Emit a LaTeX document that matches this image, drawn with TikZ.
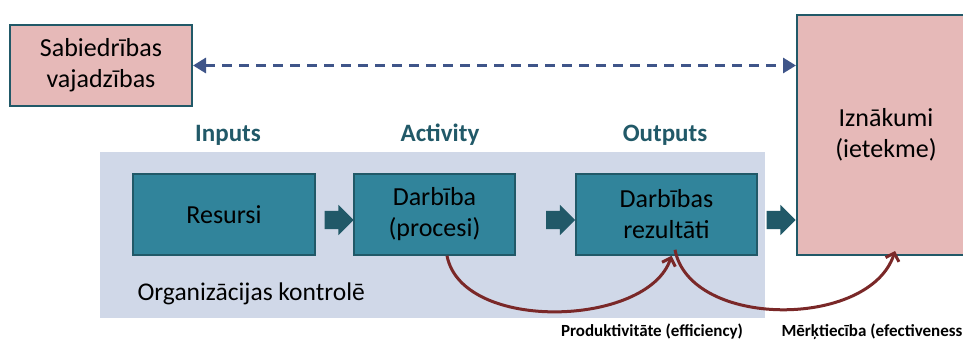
\documentclass[tikz,border=0pt]{standalone}
\usepackage{fontspec}
\setmainfont{Carlito}
\usetikzlibrary{arrows.meta,shapes.arrows}

\definecolor{pinkfill}{HTML}{E6B9B8}
\definecolor{tealfill}{HTML}{31849B}
\definecolor{tealdark}{HTML}{215968}
\definecolor{regionfill}{HTML}{D0D8E8}
\definecolor{dashblue}{HTML}{3F5589}
\definecolor{curvered}{HTML}{7A2828}

\tikzset{
  pinkbox/.style={draw=tealdark, line width=2pt, fill=pinkfill, align=center,
    font=\fontsize{26}{31}\selectfont, inner sep=0pt},
  tealbox/.style={draw=tealdark, line width=1.5pt, fill=tealfill, align=center,
    font=\fontsize{26}{31}\selectfont, minimum height=81pt, inner sep=0pt},
  heading/.style={font=\fontsize{25}{28}\selectfont\bfseries, text=tealdark},
  blockarr/.style={single arrow, fill=tealdark, inner xsep=0pt, inner ysep=9pt,
    minimum height=29pt, single arrow head extend=6pt, single arrow head indent=0pt},
  measure/.style={font=\fontsize{17}{20}\selectfont\bfseries}
}

\begin{document}
\begin{tikzpicture}[x=1pt,y=1pt]
\useasboundingbox (0,0) rectangle (963,341);
\clip (0,0) rectangle (963,341);

% area under the organisation's control
\fill[regionfill] (100,23) rectangle (765,189);
\node[anchor=west, font=\fontsize{25.5}{30}\selectfont] (ctrl) at (134,47) {Organizācijas kontrolē};

\node[pinkbox, minimum width=182pt, minimum height=81pt] (needs) at (101,275.5) {Sabiedrības\\vajadzības};
\node[pinkbox, minimum width=178pt, minimum height=240pt] (impact) at (886,206) {Iznākumi\\(ietekme)};

\node[tealbox, minimum width=182pt] (res) at (224,126.5) {Resursi};
\node[tealbox, minimum width=161pt] (act) at (434.5,126.5) {Darbība\\(procesi)};
\node[tealbox, minimum width=181pt] (outp) at (666.5,126.5) {Darbības\\rezultāti};

\node[heading] (hin) at (228,206) {Inputs};
\node[heading] (hact) at (440,206) {Activity};
\node[heading] (hout) at (665,206) {Outputs};

% block arrows between the steps
\node[blockarr] (a1) at (334.5,121) {};
\node[blockarr] (a2) at (556,121) {};
\node[blockarr] (a3) at (776.5,121) {};

\draw[dashblue, line width=3pt, dash pattern=on 10pt off 7pt,
  {Triangle[length=13pt,width=15pt]}-{Triangle[length=13pt,width=15pt]}]
  (needs.east) -- (needs.east -| impact.west);

% efficiency and effectiveness
\draw[curvered, line width=3pt, -{Straight Barb[length=7pt,width=14pt]}]
  ([xshift=12.5pt]act.south) .. controls (462,8) and (648,14) .. ([xshift=5pt]outp.south);
\draw[curvered, line width=3pt, -{Straight Barb[length=7pt,width=14pt]}]
  ([xshift=8.5pt,yshift=6pt]outp.south) .. controls (690,12) and (870,12) .. ([xshift=9pt,yshift=5pt]impact.south);

\node[measure] (eff) at (652,9) {Produktivitāte (efficiency)};
\node[measure, anchor=west] (effect) at (778,9) {Mērķtiecība (efectiveness)};
\end{tikzpicture}
\end{document}
